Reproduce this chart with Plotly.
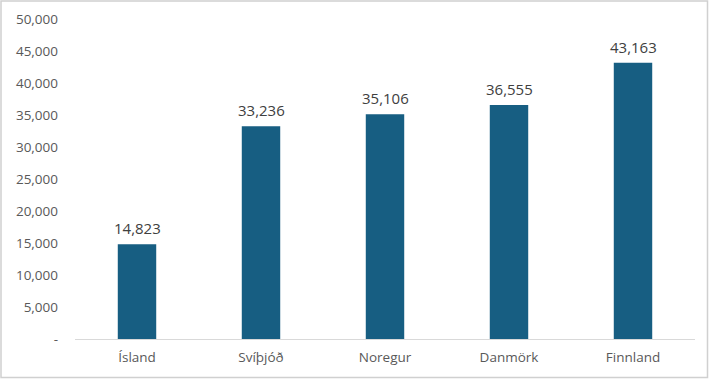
import plotly.graph_objects as go

countries = ["Ísland", "Svíþjóð", "Noregur", "Danmörk", "Finnland"]
values = [14823, 33236, 35106, 36555, 43163]
tick_vals = [0, 5000, 10000, 15000, 20000, 25000, 30000, 35000, 40000, 45000, 50000]
tick_text = ["-", "5,000", "10,000", "15,000", "20,000", "25,000", "30,000", "35,000", "40,000", "45,000", "50,000"]

W, H = 713, 380
ml, mr, mt, mb = 75, 18, 19, 41
pw, ph = W - ml - mr, H - mt - mb
FONT = "Open Sans, Lato, sans-serif"

fig = go.Figure(go.Bar(
    x=countries, y=values,
    marker=dict(color="#175E82", line=dict(width=0)),
    width=0.31,
    cliponaxis=False,
    hoverinfo="x+y",
))

for c, v in zip(countries, values):
    fig.add_annotation(x=c, y=v, text=f"{v:,}", showarrow=False,
                       yanchor="bottom", yshift=4,
                       font=dict(family=FONT, size=15, color="#404040"))

fig.update_layout(
    width=W, height=H,
    margin=dict(l=ml, r=mr, t=mt, b=mb, autoexpand=False),
    paper_bgcolor="white", plot_bgcolor="white",
    showlegend=False,
    font=dict(family=FONT, size=13, color="#595959"),
    xaxis=dict(showgrid=False, showline=True, linecolor="#d9d9d9", linewidth=1,
               ticks="", automargin=False, ticklabelstandoff=6,
               tickfont=dict(size=13.5, color="#595959")),
    yaxis=dict(range=[0, 50000], tickvals=tick_vals, ticktext=tick_text,
               showgrid=False, zeroline=False, showline=False, ticks="",
               automargin=False, ticklabelstandoff=16,
               tickfont=dict(size=13.5, color="#595959")),
    shapes=[dict(type="rect", xref="paper", yref="paper",
                 x0=(1 - ml) / pw, x1=(W - 5.5 - ml) / pw,
                 y0=-(H - 2.5 - mt - ph) / ph, y1=(ph + mt - 1) / ph,
                 line=dict(color="#d0d0d0", width=1.5), fillcolor="rgba(0,0,0,0)")],
)

fig.write_html("out.html", config=dict(displayModeBar=False, responsive=False),
               post_script="document.body.style.margin='0';document.body.style.overflow='hidden';")
